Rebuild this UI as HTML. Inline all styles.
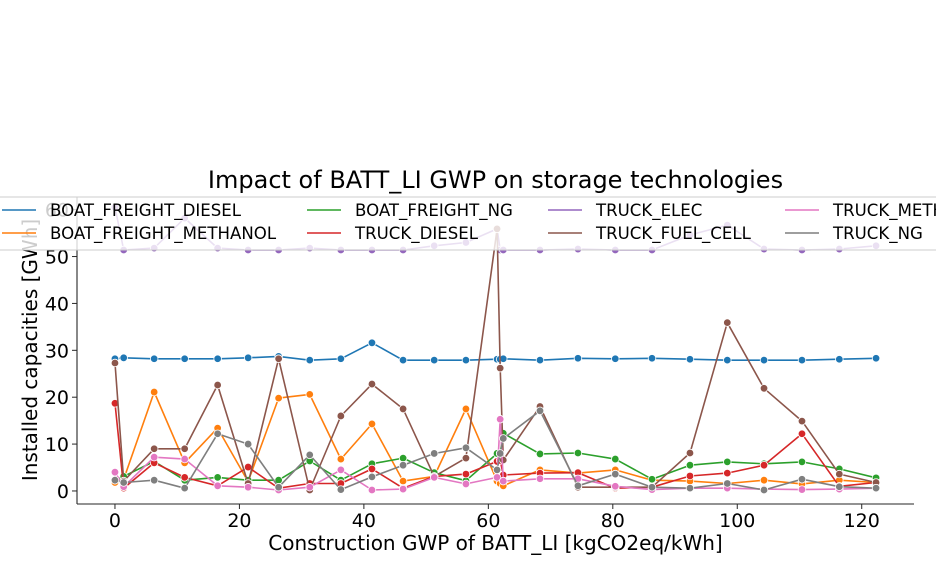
<!DOCTYPE html>
<html><head><meta charset="utf-8"><style>
body{margin:0;background:#fff;}
svg{display:block;font-family:"DejaVu Sans","Liberation Sans",sans-serif;}
</style></head><body>
<svg id="chart" width="936" height="576"></svg>
<script>
const xValues=[0,1.4,6.3,11.2,16.5,21.4,26.3,31.3,36.3,41.3,46.3,51.3,56.4,61.4,61.9,62.4,68.3,74.4,80.4,86.3,92.4,98.4,104.3,110.4,116.4,122.3];
const seriesNames=["BOAT_FREIGHT_DIESEL","BOAT_FREIGHT_METHANOL","BOAT_FREIGHT_NG","TRUCK_DIESEL","TRUCK_ELEC","TRUCK_FUEL_CELL","TRUCK_METHANOL","TRUCK_NG"];
const seriesColors=["#1f77b4","#ff7f0e","#2ca02c","#d62728","#9467bd","#8c564b","#e377c2","#7f7f7f"];
const boatDiesel=[28.2,28.4,28.2,28.2,28.2,28.4,28.7,27.9,28.2,31.6,27.9,27.9,27.9,28.1,28.1,28.2,27.9,28.3,28.2,28.3,28.1,27.9,27.9,27.9,28.1,28.3];
const boatMethanol=[1.8,2.5,21.1,6.0,13.4,2.0,19.8,20.6,6.8,14.3,2.1,3.1,17.5,2.1,1.6,1.1,4.5,3.8,4.5,2.3,2.1,1.6,2.3,1.5,2.3,1.8];
const boatNg=[2.3,3.1,6.3,2.3,2.9,2.3,2.3,6.4,2.3,5.8,7.0,3.9,2.2,8.0,8.0,12.3,7.9,8.1,6.8,2.5,5.5,6.2,5.8,6.2,4.7,2.8];
const truckDiesel=[18.7,0.6,6.0,2.9,1.1,5.1,0.6,1.6,1.6,4.7,0.6,3.1,3.6,6.3,6.5,3.4,3.8,3.9,0.6,0.8,3.2,3.8,5.5,12.2,1.0,1.8];
const truckElec=[60.5,51.4,51.8,58.2,51.8,51.4,51.4,51.8,51.4,51.4,51.4,52.3,53.0,55.9,51.4,51.4,51.4,51.6,51.4,51.4,54.6,56.7,51.6,51.4,51.6,52.3];
const truckFuelCell=[27.3,2.1,9.0,9.0,22.6,1.6,28.2,0.2,16.0,22.8,17.5,3.1,7.0,55.9,26.2,6.6,18.0,0.8,0.8,0.8,8.1,35.9,21.9,14.9,3.6,1.8];
const truckMethanol=[4.0,0.9,7.2,6.8,1.1,0.8,0.2,0.8,4.5,0.2,0.4,2.9,1.5,2.9,15.3,2.1,2.6,2.6,1.0,0.3,0.6,0.6,0.4,0.3,0.4,0.6];
const truckNg=[2.3,1.8,2.3,0.6,12.2,10.0,0.8,7.7,0.3,3.0,5.5,8.0,9.2,4.5,8.0,11.2,17.1,1.1,3.6,0.8,0.6,1.6,0.2,2.5,0.9,0.6];
const xTicks=[0,20,40,60,80,100,120];
const yTicks=[0,10,20,30,40,50,60];

const allSeries=[boatDiesel,boatMethanol,boatNg,truckDiesel,truckElec,truckFuelCell,truckMethanol,truckNg];
const NS="http://www.w3.org/2000/svg";
const svg=document.getElementById('chart');
const L=77,R=914,T=197,B=504;
const xMin=-6.1,xMax=128.4,yMin=-2.78,yMax=62.7;
function xs(v){return L+(v-xMin)/(xMax-xMin)*(R-L);}
function ys(v){return B-(v-yMin)/(yMax-yMin)*(B-T);}
function mk(tag,attrs,parent){const e=document.createElementNS(NS,tag);for(const k in attrs)e.setAttribute(k,attrs[k]);(parent||svg).appendChild(e);return e;}

const title=mk('text',{x:(L+R)/2,y:188,'text-anchor':'middle','font-size':'24',fill:'#000'});
title.textContent='Impact of BATT_LI GWP on storage technologies';



const gS=mk('g',{});


allSeries.forEach((arr,i)=>{
  const g=mk('g',{},gS);
  
  
  const pts=arr.map((v,j)=>xs(xValues[j]).toFixed(1)+','+ys(v).toFixed(1)).join(' ');
  const pl=mk('polyline',{points:pts,fill:'none',stroke:seriesColors[i],'stroke-width':'1.6','stroke-linejoin':'round'},g);
  
  
  arr.forEach((v,j)=>{
    const c=mk('circle',{cx:xs(xValues[j]),cy:ys(v),r:'3.8',fill:seriesColors[i],stroke:'#fff','stroke-width':'0.8'},g);
    
    
  });
});

const ax=mk('g',{});


mk('line',{x1:L,y1:T,x2:L,y2:B,stroke:'#262626','stroke-width':'1.1'},ax);
mk('line',{x1:L,y1:B,x2:R,y2:B,stroke:'#262626','stroke-width':'1.1'},ax);
xTicks.forEach(t=>{
  const x=xs(t);
  mk('line',{x1:x,y1:B,x2:x,y2:B+5,stroke:'#262626','stroke-width':'1'},ax);
  const tx=mk('text',{x:x,y:B+23,'text-anchor':'middle','font-size':'19',fill:'#000'},ax);
  tx.textContent=t;
  
  
});
yTicks.forEach(t=>{
  const y=ys(t);
  mk('line',{x1:L-5,y1:y,x2:L,y2:y,stroke:'#262626','stroke-width':'1'},ax);
  const tx=mk('text',{x:L-8,y:y+7,'text-anchor':'end','font-size':'19',fill:'#000'},ax);
  tx.textContent=t;
  
  
});
const xl=mk('text',{x:(L+R)/2,y:550,'text-anchor':'middle','font-size':'20',fill:'#000'});
xl.textContent='Construction GWP of BATT_LI [kgCO2eq/kWh]';


const yl=mk('text',{x:0,y:0,'text-anchor':'middle','font-size':'20',fill:'#000',transform:'translate(37,350) rotate(-90)'});
yl.textContent='Installed capacities [GWh]';



const lg=mk('g',{});


mk('rect',{x:-4,y:197,width:950,height:53,fill:'#fff','fill-opacity':'0.8',stroke:'#ccc','stroke-width':'1'},lg);
const colX=[2,307,548,785];
seriesNames.forEach((n,i)=>{
  const col=Math.floor(i/2),row=i%2;
  const x=colX[col],y=210+row*23;
  const e=mk('g',{},lg);
  
  
  mk('line',{x1:x,y1:y,x2:x+34,y2:y,stroke:seriesColors[i],'stroke-width':'1.6'},e);
  const t=mk('text',{x:x+48,y:y+6,'font-size':'16.6',fill:'#000'},e);
  t.textContent=n;
});
</script>
</body></html>
